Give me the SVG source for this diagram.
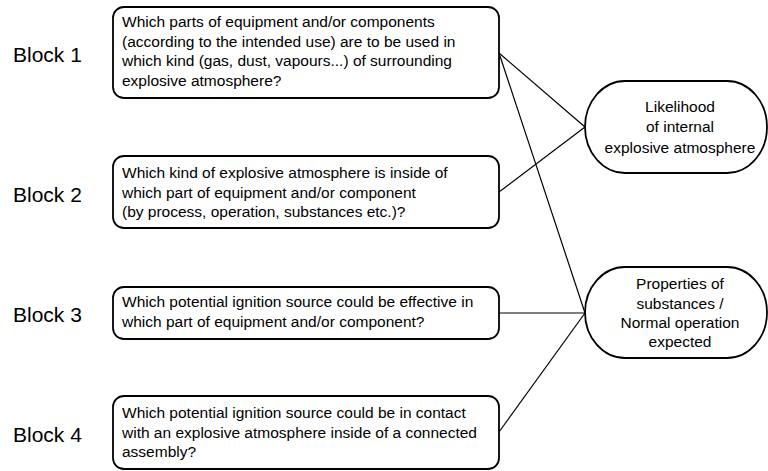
<svg xmlns="http://www.w3.org/2000/svg" width="768" height="471" viewBox="0 0 768 471">
<style>
.box{fill:#fff;stroke:#000;stroke-width:1.8}
.t{font-family:"Liberation Sans",Arial,sans-serif;font-size:15.5px;fill:#000}
.c{text-anchor:middle}
.lbl{font-family:"Liberation Sans",Arial,sans-serif;font-size:21px;fill:#000}
.conn line{stroke:#000;stroke-width:1.2}
</style>
<rect width="768" height="471" fill="#fff"/>
<g class="conn">
<line x1="499" y1="53" x2="585" y2="127"/>
<line x1="499" y1="53" x2="585" y2="313"/>
<line x1="499" y1="192" x2="585" y2="127"/>
<line x1="499" y1="313" x2="585" y2="313"/>
<line x1="499" y1="432" x2="585" y2="313"/>
</g>
<g id="label1"><text class="lbl" x="13" y="62">Block 1</text></g>
<g id="label2"><text class="lbl" x="13" y="202">Block 2</text></g>
<g id="label3"><text class="lbl" x="13" y="322">Block 3</text></g>
<g id="label4"><text class="lbl" x="13" y="442">Block 4</text></g>
<g id="block1">
<rect class="box" x="113" y="7" width="386" height="91" rx="11"/>
<text class="t" x="122" y="27">Which parts of equipment and/or components</text>
<text class="t" x="122" y="46.5">(according to the intended use) are to be used in</text>
<text class="t" x="122" y="66">which kind (gas, dust, vapours...) of surrounding</text>
<text class="t" x="122" y="85.5">explosive atmosphere?</text>
</g>
<g id="block2">
<rect class="box" x="113" y="156" width="386" height="72" rx="11"/>
<text class="t" x="122" y="178">Which kind of explosive atmosphere is inside of</text>
<text class="t" x="122" y="197.5">which part of equipment and/or component</text>
<text class="t" x="122" y="217">(by process, operation, substances etc.)?</text>
</g>
<g id="block3">
<rect class="box" x="113" y="287" width="386" height="52" rx="11"/>
<text class="t" x="122" y="307">Which potential ignition source could be effective in</text>
<text class="t" x="122" y="326.5">which part of equipment and/or component?</text>
</g>
<g id="block4">
<rect class="box" x="113" y="396" width="386" height="73" rx="11"/>
<text class="t" x="122" y="418">Which potential ignition source could be in contact</text>
<text class="t" x="122" y="437.5">with an explosive atmosphere inside of a connected</text>
<text class="t" x="122" y="457">assembly?</text>
</g>
<g id="likelihood">
<rect class="box" x="585" y="81" width="182" height="92" rx="40" ry="46"/>
<text class="t c" x="680" y="112">Likelihood</text>
<text class="t c" x="680" y="132">of internal</text>
<text class="t c" x="680" y="153">explosive atmosphere</text>
</g>
<g id="properties">
<rect class="box" x="585" y="267" width="182" height="91" rx="40" ry="45.5"/>
<text class="t c" x="680" y="289">Properties of</text>
<text class="t c" x="680" y="308.5">substances /</text>
<text class="t c" x="680" y="328">Normal operation</text>
<text class="t c" x="680" y="347">expected</text>
</g>
</svg>
